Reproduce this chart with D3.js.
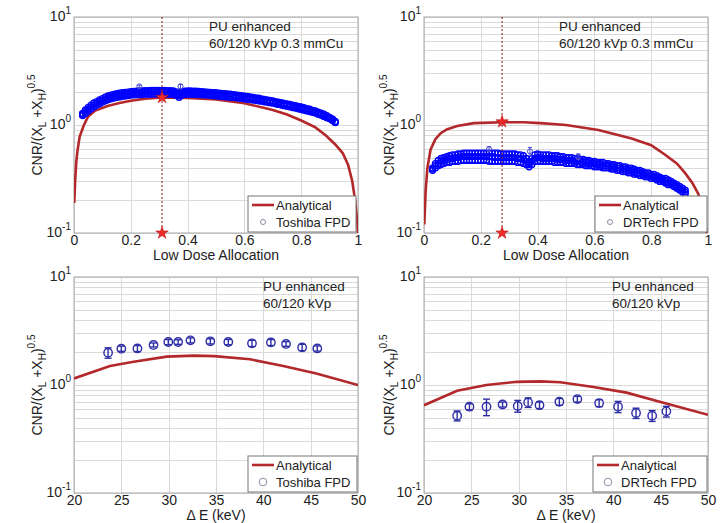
<!DOCTYPE html>
<html>
<head>
<meta charset="utf-8">
<script src="https://cdn.jsdelivr.net/npm/d3@7"></script>
<style>
  body { margin: 0; background: #fff; }
  text { font-family: "Liberation Sans", Arial, sans-serif; fill: #222; }
</style>
</head>
<body>
<svg id="fig" width="725" height="523"></svg>
<script>
// analytical curves, low dose allocation vs CNR/(XL+XH)^0.5
var toshibaCurve = [[0.001,0.19],[0.004,0.3],[0.008,0.45],[0.012,0.57],[0.02,0.78],[0.035,1.0],[0.05,1.2],[0.075,1.36],
  [0.118,1.5],[0.16,1.6],[0.2,1.68],[0.25,1.75],[0.31,1.8],[0.4,1.78],[0.5,1.72],[0.6,1.59],[0.7,1.38],[0.75,1.25],
  [0.8,1.1],[0.85,0.95],[0.887,0.8],[0.92,0.66],[0.946,0.55],[0.965,0.43],[0.98,0.3],[0.99,0.2],[0.997,0.13],[1.0,0.1]]

var drtechCurve = [[0.001,0.12],[0.006,0.25],[0.012,0.4],[0.023,0.59],[0.04,0.74],[0.059,0.84],[0.08,0.91],[0.117,0.98],
  [0.176,1.04],[0.276,1.06],[0.35,1.06],[0.41,1.04],[0.5,1.0],[0.614,0.9],[0.731,0.75],[0.8,0.65],[0.849,0.53],
  [0.89,0.44],[0.919,0.36],[0.945,0.29],[0.966,0.23],[0.98,0.17],[0.99,0.12],[0.995,0.1]]

// measured scatter: [allocation, y1, y2, y3]
var toshibaScatter = [
  [0.03,1.22,1.25,1.28],[0.04,1.28,1.33,1.38],[0.05,1.35,1.40,1.46],[0.06,1.41,1.47,1.53],[0.07,1.47,1.53,1.60],
  [0.08,1.52,1.58,1.65],[0.09,1.57,1.64,1.71],[0.10,1.62,1.69,1.76],[0.11,1.67,1.73,1.81],[0.12,1.71,1.78,1.86],
  [0.13,1.74,1.81,1.89],[0.14,1.77,1.84,1.92],[0.15,1.80,1.87,1.95],[0.16,1.82,1.89,1.97],[0.17,1.84,1.91,1.99],
  [0.18,1.86,1.93,2.01],[0.19,1.87,1.95,2.02],[0.20,1.89,1.96,2.04],[0.21,1.90,1.97,2.05],[0.22,1.91,1.98,2.06],
  [0.23,1.91,1.99,2.07],[0.24,1.92,2.00,2.07],[0.25,1.93,2.00,2.08],[0.26,1.93,2.01,2.08],[0.27,1.93,2.01,2.09],
  [0.28,1.94,2.01,2.09],[0.29,1.94,2.02,2.09],[0.30,1.94,2.02,2.09],[0.31,1.94,2.01,2.09],[0.32,1.93,2.01,2.09],
  [0.33,1.93,2.01,2.08],[0.34,1.93,2.00,2.08],[0.35,1.92,2.00,2.07],[0.36,1.88,1.96,2.03],[0.37,1.80,1.86,1.92],
  [0.38,1.89,1.97,2.04],[0.39,1.92,1.99,2.06],[0.40,1.93,2.00,2.07],[0.41,1.93,2.00,2.07],[0.42,1.92,1.99,2.06],
  [0.43,1.92,1.99,2.06],[0.44,1.91,1.98,2.05],[0.45,1.91,1.97,2.04],[0.46,1.90,1.96,2.03],[0.47,1.89,1.95,2.02],
  [0.48,1.88,1.94,2.01],[0.49,1.87,1.93,2.00],[0.50,1.86,1.92,1.99],[0.51,1.85,1.91,1.97],[0.52,1.84,1.90,1.96],
  [0.53,1.83,1.89,1.95],[0.54,1.82,1.88,1.94],[0.55,1.81,1.87,1.93],[0.56,1.80,1.85,1.91],[0.57,1.79,1.84,1.90],
  [0.58,1.77,1.83,1.88],[0.59,1.76,1.81,1.87],[0.60,1.75,1.80,1.85],[0.61,1.73,1.78,1.84],[0.62,1.72,1.77,1.82],
  [0.63,1.70,1.75,1.80],[0.64,1.69,1.73,1.78],[0.65,1.67,1.72,1.77],[0.66,1.66,1.70,1.75],[0.67,1.64,1.68,1.73],
  [0.68,1.62,1.66,1.71],[0.69,1.61,1.65,1.69],[0.70,1.59,1.63,1.67],[0.71,1.57,1.61,1.65],[0.72,1.55,1.59,1.63],
  [0.73,1.53,1.57,1.61],[0.74,1.51,1.55,1.59],[0.75,1.49,1.53,1.57],[0.76,1.47,1.51,1.55],[0.77,1.45,1.49,1.53],
  [0.78,1.43,1.47,1.51],[0.79,1.41,1.45,1.49],[0.80,1.39,1.43,1.47],[0.81,1.37,1.41,1.45],[0.82,1.35,1.38,1.42],
  [0.83,1.33,1.36,1.40],[0.84,1.31,1.34,1.37],[0.85,1.29,1.32,1.35],[0.86,1.26,1.29,1.32],[0.87,1.23,1.26,1.29],
  [0.88,1.20,1.23,1.26],[0.89,1.17,1.19,1.22],[0.90,1.14,1.16,1.18],[0.91,1.10,1.12,1.14],[0.92,1.05,1.06,1.08]]

var drtechScatter = [
  [0.03,0.38,0.39,0.40],[0.04,0.40,0.42,0.44],[0.05,0.42,0.44,0.47],[0.06,0.43,0.46,0.49],[0.07,0.44,0.47,0.50],
  [0.08,0.45,0.48,0.51],[0.09,0.45,0.49,0.52],[0.10,0.46,0.49,0.53],[0.11,0.46,0.50,0.53],[0.12,0.46,0.50,0.54],
  [0.13,0.47,0.51,0.54],[0.14,0.47,0.51,0.55],[0.15,0.47,0.51,0.55],[0.16,0.47,0.51,0.55],[0.17,0.47,0.51,0.55],
  [0.18,0.47,0.51,0.55],[0.19,0.47,0.51,0.55],[0.20,0.47,0.51,0.55],[0.21,0.47,0.51,0.55],[0.22,0.47,0.51,0.55],
  [0.23,0.46,0.51,0.55],[0.24,0.46,0.51,0.55],[0.25,0.46,0.50,0.55],[0.26,0.46,0.50,0.55],[0.27,0.46,0.50,0.54],
  [0.28,0.46,0.50,0.54],[0.29,0.46,0.50,0.54],[0.30,0.46,0.50,0.54],[0.31,0.46,0.50,0.54],[0.32,0.46,0.50,0.54],
  [0.33,0.45,0.49,0.53],[0.34,0.45,0.49,0.53],[0.35,0.44,0.48,0.52],[0.36,0.43,0.46,0.49],[0.37,0.41,0.43,0.45],
  [0.38,0.43,0.46,0.49],[0.39,0.46,0.49,0.53],[0.40,0.46,0.50,0.54],[0.41,0.46,0.50,0.53],[0.42,0.46,0.49,0.53],
  [0.43,0.46,0.49,0.53],[0.44,0.46,0.49,0.53],[0.45,0.46,0.49,0.52],[0.46,0.45,0.49,0.52],[0.47,0.45,0.48,0.52],
  [0.48,0.45,0.48,0.51],[0.49,0.45,0.48,0.51],[0.50,0.44,0.47,0.50],[0.51,0.44,0.47,0.50],[0.52,0.44,0.47,0.50],
  [0.53,0.44,0.46,0.49],[0.54,0.43,0.46,0.49],[0.55,0.43,0.46,0.48],[0.56,0.43,0.45,0.48],[0.57,0.42,0.45,0.47],
  [0.58,0.42,0.44,0.47],[0.59,0.42,0.44,0.46],[0.60,0.41,0.44,0.46],[0.61,0.41,0.43,0.45],[0.62,0.41,0.43,0.45],
  [0.63,0.40,0.42,0.45],[0.64,0.40,0.42,0.44],[0.65,0.40,0.42,0.44],[0.66,0.39,0.41,0.43],[0.67,0.39,0.41,0.43],
  [0.68,0.38,0.40,0.42],[0.69,0.38,0.40,0.42],[0.70,0.37,0.39,0.41],[0.71,0.37,0.39,0.41],[0.72,0.36,0.38,0.40],
  [0.73,0.36,0.38,0.40],[0.74,0.35,0.37,0.39],[0.75,0.35,0.36,0.38],[0.76,0.34,0.36,0.38],[0.77,0.34,0.35,0.37],
  [0.78,0.33,0.35,0.36],[0.79,0.33,0.34,0.36],[0.80,0.32,0.34,0.35],[0.81,0.32,0.33,0.35],[0.82,0.31,0.32,0.34],
  [0.83,0.30,0.32,0.33],[0.84,0.30,0.31,0.32],[0.85,0.29,0.30,0.32],[0.86,0.28,0.29,0.31],[0.87,0.28,0.29,0.30],
  [0.88,0.27,0.28,0.29],[0.89,0.26,0.27,0.28],[0.90,0.25,0.26,0.27],[0.91,0.24,0.25,0.26],[0.92,0.23,0.24,0.25]]

// a few points standing out with error bars: [x, y, err]
var toshibaOutliers = [[0.23,2.28,0.06],[0.375,2.28,0.1]]
var drtechOutliers = [[0.229,0.60,0.03],[0.373,0.57,0.05],[0.543,0.51,0.03]]

// optimum allocation (star)
var toshibaOpt = [0.31, 1.8]
var drtechOpt = [0.275, 1.07]

// delta E (keV) curves and measurements [dE, y, err]
var toshibaDECurve = [[20,1.15],[23.8,1.5],[26.3,1.64],[29.8,1.83],[32.7,1.87],[34.8,1.85],[38.6,1.73],[42.1,1.5],[45.6,1.28],[50,1.0]]
var drtechDECurve = [[20,0.65],[23.5,0.885],[26.6,1.0],[29.8,1.07],[32.3,1.08],[34.4,1.06],[37.9,0.96],[41.4,0.85],[44.9,0.7],[50,0.53]]

var toshibaDE = [[23.6,1.99,0.22],[25.0,2.17,0.12],[26.7,2.18,0.14],[28.4,2.35,0.1],[29.96,2.5,0.14],[31.0,2.5,0.12],
  [32.3,2.59,0.14],[34.4,2.54,0.14],[36.3,2.5,0.14],[38.8,2.43,0.16],[40.8,2.48,0.16],[42.4,2.4,0.12],[44.1,2.23,0.15],[45.7,2.18,0.12]]
var drtechDE = [[23.5,0.52,0.055],[24.8,0.63,0.04],[26.6,0.63,0.11],[28.3,0.66,0.035],[29.9,0.64,0.08],[31.0,0.69,0.07],
  [32.2,0.65,0.045],[34.3,0.70,0.05],[36.2,0.74,0.045],[38.5,0.68,0.05],[40.5,0.63,0.075],[42.4,0.55,0.06],[44.1,0.52,0.06],[45.6,0.57,0.065]]

var allocTicks = [0, 0.2, 0.4, 0.6, 0.8, 1]
var deTicks = [20, 25, 30, 35, 40, 45, 50]
var yDecades = [0.1, 1, 10]

var red = '#b3282b'
var blue = '#0000ff'
var navy = '#2e2ea6'
var font = '"Liberation Sans", Arial, sans-serif'
var W = 284, H = 216

var svg = d3.select('#fig')

function drawPanel(p, idx) {
  var g = svg.append('g').attr('transform', 'translate(' + p.left + ',' + p.top + ')')
  var x = d3.scaleLinear().domain(p.xDomain).range([0, W])
  var y = d3.scaleLog().domain([0.1, 10]).range([H, 0])

  g.append('clipPath').attr('id', 'clip' + idx)
    .append('rect').attr('width', W).attr('height', H)

  // grid
  g.selectAll('line.hg').data(y.ticks()).join('line')
    .attr('x1', 0).attr('x2', W)
    .attr('y1', d => Math.round(y(d)) + 0.5).attr('y2', d => Math.round(y(d)) + 0.5)
    .attr('stroke', '#dadada')
  g.selectAll('line.vg').data(p.xTicks).join('line')
    .attr('x1', d => Math.round(x(d)) + 0.5).attr('x2', d => Math.round(x(d)) + 0.5)
    .attr('y1', 0).attr('y2', H)
    .attr('stroke', '#dadada')
  g.append('rect').attr('width', W).attr('height', H)
    .attr('fill', 'none').attr('stroke', '#a8a8a8')

  var plot = g.append('g').attr('clip-path', 'url(#clip' + idx + ')')

  var line = d3.line().x(d => x(d[0])).y(d => y(d[1]))
  plot.append('path').attr('d', line(p.curve))
    .attr('fill', 'none').attr('stroke', red).attr('stroke-width', 2.6)

  if (p.scatter) {
    var pts = p.scatter.flatMap(r => [[r[0], r[1]], [r[0], r[2]], [r[0], r[3]]])
    plot.selectAll('circle.s').data(pts).join('circle')
      .attr('cx', d => x(d[0])).attr('cy', d => y(d[1])).attr('r', 2.9)
      .attr('fill', 'none').attr('stroke', blue).attr('stroke-width', 1.4)
  }

  // points with error bars
  var ew = p.big ? 3.5 : 2
  var eg = plot.selectAll('g.eb').data(p.errPts).join('g')
    .attr('stroke', p.big ? navy : '#4a4ad0').attr('fill', 'none').attr('stroke-width', p.big ? 1.4 : 1)
  eg.append('line')
    .attr('x1', d => x(d[0])).attr('x2', d => x(d[0]))
    .attr('y1', d => y(d[1] - d[2])).attr('y2', d => y(d[1] + d[2]))
  eg.append('line')
    .attr('x1', d => x(d[0]) - ew).attr('x2', d => x(d[0]) + ew)
    .attr('y1', d => y(d[1] - d[2])).attr('y2', d => y(d[1] - d[2]))
  eg.append('line')
    .attr('x1', d => x(d[0]) - ew).attr('x2', d => x(d[0]) + ew)
    .attr('y1', d => y(d[1] + d[2])).attr('y2', d => y(d[1] + d[2]))
  eg.append('circle')
    .attr('cx', d => x(d[0])).attr('cy', d => y(d[1])).attr('r', p.big ? 4.2 : 2.5)

  // optimum marker
  if (p.opt) {
    var ox = x(p.opt[0])
    plot.append('line').attr('x1', ox).attr('x2', ox).attr('y1', 0).attr('y2', H)
      .attr('stroke', '#8e1414').attr('stroke-width', 1).attr('stroke-dasharray', '2,2')
    var star = d3.symbol().type(d3.symbolStar).size(48)
    g.selectAll('path.star').data([p.opt[1], 0.1]).join('path')
      .attr('d', star)
      .attr('transform', d => 'translate(' + ox + ',' + y(d) + ')')
      .attr('fill', '#ee2a2a').attr('stroke', '#c01818').attr('stroke-width', 0.6)
  }

  // x axis labels
  var xa = g.append('g').attr('transform', 'translate(0,' + H + ')')
    .call(d3.axisBottom(x).tickValues(p.xTicks).tickSize(0).tickPadding(2).tickFormat(d3.format('')))
  xa.select('.domain').remove()
  xa.selectAll('text').attr('font-size', 14).attr('fill', '#222').attr('font-family', font)

  g.append('text').attr('x', W / 2).attr('y', H + 27).attr('text-anchor', 'middle')
    .attr('font-size', 14).text(p.xLabel)

  // y decade labels
  var yl = g.selectAll('text.yl').data(yDecades).join('text')
    .attr('x', -3).attr('y', d => y(d) + 4).attr('text-anchor', 'end').attr('font-size', 14)
  yl.append('tspan').text('10')
  yl.append('tspan').attr('dy', -7).attr('font-size', 10).text(d => Math.round(Math.log10(d)))

  // y label
  var yt = g.append('text').attr('text-anchor', 'middle').attr('font-size', 14)
    .attr('transform', 'translate(' + p.yLabelX + ',' + (H / 2) + ') rotate(-90)')
  yt.append('tspan').text('CNR/(X')
  yt.append('tspan').attr('dy', 4).attr('font-size', 10).text('L')
  yt.append('tspan').attr('dy', -4).text(' +X')
  yt.append('tspan').attr('dy', 4).attr('font-size', 10).text('H')
  yt.append('tspan').attr('dy', -4).text(')')
  yt.append('tspan').attr('dy', -7).attr('font-size', 10).text('0.5')

  // annotation
  p.note.forEach(function(t, i) {
    g.append('text').attr('x', p.noteX).attr('y', 14 + i * 17).attr('font-size', 13.5).text(t)
  })

  // legend
  var lg = g.append('g').attr('transform', 'translate(' + p.legX + ',' + (H - 37) + ')')
  lg.append('rect').attr('width', p.legW).attr('height', 36)
    .attr('fill', '#fff').attr('stroke', '#777')
  lg.append('line').attr('x1', 4).attr('x2', 26).attr('y1', 9).attr('y2', 9)
    .attr('stroke', red).attr('stroke-width', 2.6)
  lg.append('text').attr('x', 28).attr('y', 13.5).attr('font-size', 13).text('Analytical')
  lg.append('circle').attr('cx', 15).attr('cy', 26).attr('r', p.big ? 3.8 : 2.5)
    .attr('fill', 'none').attr('stroke', '#8a8aa8').attr('stroke-width', 1)
  lg.append('text').attr('x', 28).attr('y', 30.5).attr('font-size', 13).text(p.legName)
}

var panels = [
  {left: 74, top: 17, xDomain: [0, 1], xTicks: allocTicks, curve: toshibaCurve, scatter: toshibaScatter,
   errPts: toshibaOutliers, opt: toshibaOpt, xLabel: 'Low Dose Allocation', yLabelX: -32,
   note: ['PU enhanced', '60/120 kVp 0.3 mmCu'], noteX: 135, legX: 174, legW: 108, legName: 'Toshiba FPD'},
  {left: 424, top: 17, xDomain: [0, 1], xTicks: allocTicks, curve: drtechCurve, scatter: drtechScatter,
   errPts: drtechOutliers, opt: drtechOpt, xLabel: 'Low Dose Allocation', yLabelX: -30,
   note: ['PU enhanced', '60/120 kVp 0.3 mmCu'], noteX: 135, legX: 171, legW: 112, legName: 'DRTech FPD'},
  {left: 74, top: 277, xDomain: [20, 50], xTicks: deTicks, curve: toshibaDECurve, errPts: toshibaDE, big: true,
   xLabel: '\u0394 E (keV)', yLabelX: -32,
   note: ['PU enhanced', '60/120 kVp'], noteX: 189, legX: 174, legW: 109, legName: 'Toshiba FPD'},
  {left: 424, top: 277, xDomain: [20, 50], xTicks: deTicks, curve: drtechDECurve, errPts: drtechDE, big: true,
   xLabel: '\u0394 E (keV)', yLabelX: -30,
   note: ['PU enhanced', '60/120 kVp'], noteX: 188, legX: 169, legW: 114, legName: 'DRTech FPD'}
]

panels.forEach(drawPanel)
</script>
</body>
</html>
